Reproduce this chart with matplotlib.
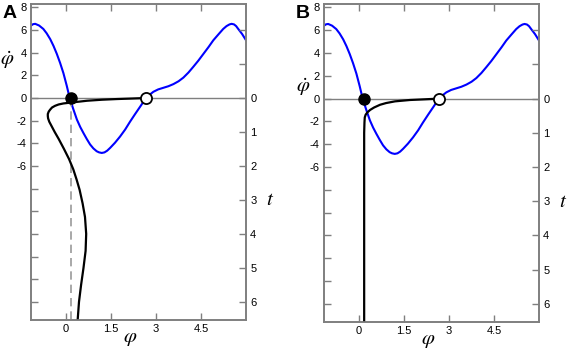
import matplotlib.pyplot as plt
from matplotlib.ticker import FixedLocator, FixedFormatter

plt.rcParams['font.family'] = ['Liberation Sans', 'DejaVu Sans']
plt.rcParams['mathtext.fontset'] = 'stix'

# blue nullcline: phi vs phi-dot
phi_blue = [-1.17, -1.1, -1.03, -0.9, -0.76, -0.65, -0.53, -0.42, -0.31, -0.2, -0.09, 0.02, 0.12,
            0.24, 0.36, 0.47, 0.58, 0.69, 0.8, 0.91, 1.02, 1.1, 1.19, 1.28, 1.37, 1.47, 1.63, 1.8,
            1.97, 2.13, 2.3, 2.47, 2.57, 2.67, 2.79, 2.91, 3.07, 3.24, 3.41, 3.58, 3.75, 3.91,
            4.08, 4.24, 4.41, 4.58, 4.75, 4.91, 5.08, 5.24, 5.35, 5.45, 5.52, 5.6, 5.67, 5.74,
            5.87, 6.0]
dphi_blue = [6.4, 6.52, 6.55, 6.4, 6.1, 5.72, 5.2, 4.6, 3.9, 3.1, 2.2, 1.1, 0.0,
             -0.98, -1.9, -2.55, -3.1, -3.62, -4.1, -4.45, -4.7, -4.8, -4.85, -4.8, -4.65,
             -4.4, -3.95, -3.4, -2.78, -2.1, -1.42, -0.76, -0.37, 0.0, 0.3, 0.55, 0.76, 0.9,
             1.04, 1.23, 1.48, 1.8, 2.25, 2.75, 3.3, 3.9, 4.5, 5.1, 5.62, 6.1, 6.35, 6.5, 6.55,
             6.5, 6.35, 6.1, 5.65, 5.1]

# trajectories: phi vs time
phi_a = [2.67, 2.2, 1.7, 1.2, 0.7, 0.2, -0.09, -0.25, -0.37, -0.47, -0.53, -0.58, -0.61, -0.61,
         -0.6, -0.56, -0.5, -0.38, -0.25, -0.07, 0.1, 0.24, 0.35, 0.45, 0.55, 0.63, 0.67, 0.65,
         0.58, 0.5, 0.43, 0.38]
t_a = [0.0, 0.015, 0.03, 0.05, 0.08, 0.13, 0.16, 0.19, 0.23, 0.28, 0.34, 0.4, 0.47, 0.53,
       0.6, 0.7, 0.8, 1.0, 1.2, 1.5, 1.8, 2.1, 2.4, 2.7, 3.1, 3.5, 4.0, 4.5, 5.0, 5.5, 6.0, 6.6]
phi_b = [2.67, 2.2, 1.7, 1.2, 0.9, 0.7, 0.5, 0.37, 0.28, 0.22, 0.19, 0.18, 0.17, 0.17]
t_b = [0.0, 0.02, 0.04, 0.08, 0.13, 0.18, 0.26, 0.33, 0.4, 0.47, 0.55, 0.7, 1.0, 6.6]

stable_phi = 0.15
unstable_phi = 2.67

GRAY = '#7f7f7f'
fig = plt.figure(figsize=(5.67, 3.52), dpi=100)

def panel(rect, letter, phi_traj, t_traj, dashed, lab_pos):
    ax = fig.add_axes(rect)
    ax.axhline(0, color=GRAY, lw=1.0, zorder=1)
    ax.plot(phi_blue, dphi_blue, color='#0000ff', lw=1.5, zorder=2)
    ax.set_xlim(-1.17, 6.0)
    ax.set_ylim(-19.6, 8.3)
    ax.set_xticks([0, 1.5, 3, 4.5])
    ax.set_xticklabels(['0', '1.5', '3', '4.5'])
    ax.yaxis.set_major_locator(FixedLocator(list(range(8, -19, -2))))
    ax.yaxis.set_major_formatter(FixedFormatter(['8', '6', '4', '2', '0', '-2', '-4', '-6'] + [''] * 6))
    ax.tick_params(direction='in', length=5, width=1, color=GRAY, labelsize=8, top=True,
                   right=False, pad=3)
    for s in ax.spines.values():
        s.set_color(GRAY)
        s.set_linewidth(1.2)

    tx = ax.twinx()
    tx.set_ylim(19.6 / 3, -8.3 / 3)
    tx.yaxis.set_major_locator(FixedLocator(list(range(-2, 7))))
    tx.yaxis.set_major_formatter(FixedFormatter(['', ''] + [str(i) for i in range(7)]))
    tx.tick_params(direction='in', length=5, width=1, color=GRAY, labelsize=8, pad=3)
    for s in tx.spines.values():
        s.set_color(GRAY)
        s.set_linewidth(1.2)
    if dashed:
        tx.plot([stable_phi, stable_phi], [0, 6.6], color='#999999', lw=1.2, ls=(0, (5, 3)), zorder=1)
    tx.plot(phi_traj, t_traj, color='black', lw=1.6, zorder=2)
    tx.plot([stable_phi], [0], 'o', ms=8, mfc='black', mec='black', zorder=5)
    tx.plot([unstable_phi], [0], 'o', ms=8, mfc='white', mec='black', mew=1.3, zorder=5)

    ax.text(lab_pos[0], lab_pos[1], r'$\dot{\varphi}$', transform=ax.transAxes, fontsize=15,
            ha='center', va='center')
    ax.text(lab_pos[2], -0.057, r'$\varphi$', transform=ax.transAxes, fontsize=15,
            ha='center', va='center')
    ax.text(1.11, 0.38, r'$t$', transform=ax.transAxes, fontsize=15, ha='center', va='center')
    ax.text(lab_pos[3], 0.97, letter, transform=ax.transAxes, fontsize=14, fontweight='bold',
            ha='center', va='center')

panel([0.0547, 0.0909, 0.3792, 0.8977], 'A', phi_a, t_a, True, (-0.112, 0.823, 0.46, -0.1))
panel([0.5714, 0.0852, 0.3792, 0.9034], 'B', phi_b, t_b, False, (-0.098, 0.739, 0.484, -0.1))

fig.savefig('out.png', dpi=100)
